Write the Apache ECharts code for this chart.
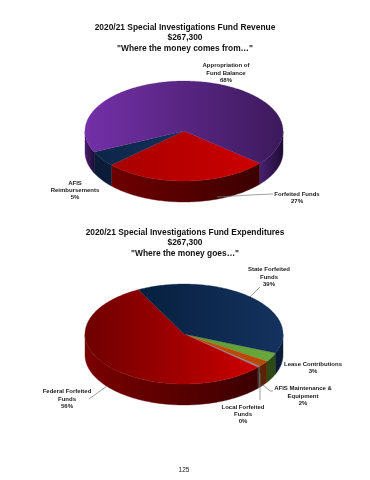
<!DOCTYPE html>
<html>
<head>
<meta charset="utf-8">
<style>html,body{margin:0;padding:0;background:#fff}#c{width:370px;height:480px}</style>
<script src="https://cdn.jsdelivr.net/npm/echarts@6/dist/echarts.min.js"></script>
</head>
<body>
<div id="c"></div>
<script>
// --- chart data, clockwise from each pie's starting angle ---
const revenueCategories = ['Forfeited Funds', 'AFIS Reimbursements', 'Appropriation of Fund Balance'];
const revenueValues = [27, 5, 68];
const expenseCategories = ['Lease Contributions', 'AFIS Maintenance & Equipment', 'Local Forfeited Funds', 'Federal Forfeited Funds', 'State Forfeited Funds'];
const expenseValues = [3, 2, 0.4, 56, 39];

// --- styling ---
const revenueTop = [['#a80000','#cc0000'],['#0c2547','#14305c'],['#7430a8','#3c1a5c']];
const revenueSide = [['#6e0000','#3c0000'],['#0a1c38','#0a1c38'],['#4a2070','#1e0c34']];
const expenseTop = [['#5a9a30','#6aa83c'],['#c04a08','#b84808'],['#808890','#808890'],['#6e0000','#cc0000'],['#07203f','#14325e']];
const expenseSide = [['#2c4a16','#2c4a16'],['#5a2404','#5a2404'],['#404448','#404448'],['#7a0000','#3c0000'],['#0a1c38','#0a1c38']];
const revenuePie = {cx:184, cy:131, rx:99, ry:50, depth:21, start:40};
const expensePie = {cx:184, cy:334, rx:99, ry:50, depth:21, start:22.4};

const revenueLabels = [
  {text:'Appropriation of\nFund Balance\n68%', x:226, y:73},
  {text:'AFIS\nReimbursements\n5%', x:75, y:190.5},
  {text:'Forfeited Funds\n27%', x:297, y:197.5}
];
const expenseLabels = [
  {text:'State Forfeited\nFunds\n39%', x:269, y:277},
  {text:'Lease Contributions\n3%', x:313, y:367.5},
  {text:'AFIS Maintenance &\nEquipment\n2%', x:303, y:396},
  {text:'Local Forfeited\nFunds\n0%', x:243, y:414.5},
  {text:'Federal Forfeited\nFunds\n56%', x:67, y:399}
];
const leaderLines = [
  [[217,197],[250,195],[273,194]],
  [[250,297],[260,287]],
  [[263,385],[270,391],[273,391]],
  [[260,373],[260,400]],
  [[107,386],[89,399]]
];

function grad(pair){
  return new echarts.graphic.LinearGradient(0,0,1,0,[{offset:0,color:pair[0]},{offset:1,color:pair[1]}]);
}
function ellipsePoint(p, deg, dy){
  const a = deg*Math.PI/180;
  return [p.cx + p.rx*Math.cos(a), p.cy + p.ry*Math.sin(a) + (dy||0)];
}
function slices(values, pie){
  const total = values.reduce((s,v)=>s+v,0);
  let cur = pie.start;
  return values.map(v=>{
    const a = cur, b = cur + v/total*360;
    cur = b;
    return [a,b];
  });
}
function arcPoints(p, a, b, dy){
  const pts = [];
  const n = Math.max(2, Math.ceil(Math.abs(b-a)));
  for(let i=0;i<=n;i++) pts.push(ellipsePoint(p, a+(b-a)*i/n, dy));
  return pts;
}
function pieSeries(values, names, pie, top, side){
  const spans = slices(values, pie);
  const data = values.map((v,i)=>({name:names[i], value:v}));
  return [{
    type:'custom', coordinateSystem:'none', z:1, silent:true, data,
    renderItem(params){
      const [a,b] = spans[params.dataIndex];
      const children = [];
      [0,1].forEach(k=>{
        const lo = Math.max(a,360*k), hi = Math.min(b,360*k+180);
        if(hi>lo){
          const upper = arcPoints(pie,lo,hi,0);
          const lower = arcPoints(pie,hi,lo,pie.depth);
          const fill = grad(side[params.dataIndex]);
          children.push({type:'polygon',shape:{points:upper.concat(lower)},
            style:{fill,stroke:fill,lineWidth:0.4}});
        }
      });
      return {type:'group',children};
    }
  },{
    type:'custom', coordinateSystem:'none', z:2, silent:true, data,
    renderItem(params){
      const [a,b] = spans[params.dataIndex];
      const fill = grad(top[params.dataIndex]);
      return {type:'polygon',
        shape:{points:[[pie.cx,pie.cy]].concat(arcPoints(pie,a,b,0))},
        style:{fill,stroke:fill,lineWidth:0.3}};
    }
  }];
}
function textEl(l){
  return {type:'text',x:l.x,y:l.y,z:10,silent:true,style:{
    text:l.text,align:'center',verticalAlign:'middle',
    font:'bold 6px "Liberation Sans", Arial, sans-serif',lineHeight:7.3,fill:'#1a1a1a'}};
}
const titleFont = {fontFamily:'"Liberation Sans", Arial, sans-serif',fontWeight:'bold',fontSize:8.4,lineHeight:10.6,color:'#111'};

const chart = echarts.init(document.getElementById('c'),null,{renderer:'canvas'});
chart.setOption({
  backgroundColor:'#fff',
  animation:false,
  title:[
    {text:'2020/21 Special Investigations Fund Revenue\n$267,300\n"Where the money comes from…"',left:185,top:22,textAlign:'center',padding:0,textStyle:titleFont},
    {text:'2020/21 Special Investigations Fund Expenditures\n$267,300\n"Where the money goes…"',left:185,top:227,textAlign:'center',padding:0,textStyle:titleFont}
  ],
  series:[].concat(
    pieSeries(revenueValues,revenueCategories,revenuePie,revenueTop,revenueSide),
    pieSeries(expenseValues,expenseCategories,expensePie,expenseTop,expenseSide)
  ),
  graphic:[].concat(
    leaderLines.map(pts=>({type:'polyline',z:9,silent:true,shape:{points:pts},style:{stroke:'#777',lineWidth:0.7,fill:null}})),
    revenueLabels.map(textEl),
    expenseLabels.map(textEl),
    [{type:'text',x:184,y:470,silent:true,style:{text:'125',align:'center',verticalAlign:'middle',font:'6.5px "Liberation Sans", Arial, sans-serif',fill:'#222'}}]
  )
});
</script>
</body>
</html>
